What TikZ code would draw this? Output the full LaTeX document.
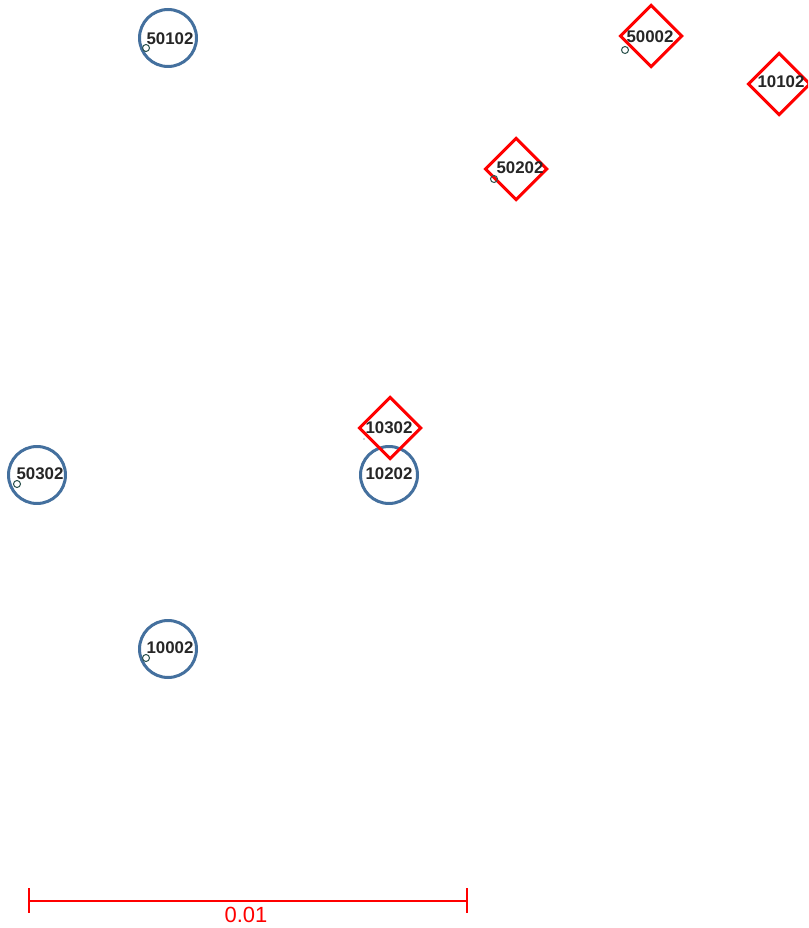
\documentclass[tikz,border=0pt]{standalone}
\usepackage{fontspec}
\setmainfont{Liberation Sans}
\usepackage{xcolor}
\usetikzlibrary{shapes.geometric}
\definecolor{siteblue}{HTML}{44709E}
\definecolor{markred}{HTML}{FF0000}
\definecolor{textgray}{HTML}{262626}
\definecolor{pingray}{HTML}{2F5550}
\tikzset{
  sitecircle/.style={circle,draw=siteblue,line width=0.06cm,minimum size=1.14cm,inner sep=0pt},
  sitediamond/.style={diamond,draw=markred,line width=0.06cm,minimum size=1.25cm,inner sep=0pt},
  tag/.style={inner sep=0pt,font=\fontsize{9.6}{10}\selectfont\bfseries,text=textgray},
  pin/.style={circle,draw=pingray,line width=0.6pt,minimum size=0.14cm,inner sep=0pt},
  scaleline/.style={draw=markred,line width=0.9pt}
}
\begin{document}
\begin{tikzpicture}[x=0.02cm,y=-0.02cm]
  \useasboundingbox (0,0) rectangle (808,928);
  \clip (0,0) rectangle (808,928);
  % blue sites
  \node[sitecircle] (c50102) at (168,38) {};
  \node[sitecircle] (c50302) at (37,475) {};
  \node[sitecircle] (c10202) at (389,475) {};
  \node[sitecircle] (c10002) at (168,649) {};
  % red sites
  \node[sitediamond] (d50002) at (651,36) {};
  \node[sitediamond] (d10102) at (779,84) {};
  \node[sitediamond] (d50202) at (516,169) {};
  \node[sitediamond] (d10302) at (390,428) {};
  % small pins
  \node[pin] (p50102) at (146,48) {};
  \node[pin] (p50002) at (625,50) {};
  \node[pin] (p50202) at (494,179) {};
  \node[pin] (p50302) at (17,484) {};
  \node[pin] (p10002) at (146,658) {};
  \fill[pingray] (364,439) circle (0.6);
  % labels
  \node[tag] at (170,39) {50102};
  \node[tag] at (650,37) {50002};
  \node[tag] at (781,82) {10102};
  \node[tag] at (520,168) {50202};
  \node[tag] at (389,428) {10302};
  \node[tag] at (40,474) {50302};
  \node[tag] at (389,474) {10202};
  \node[tag] at (170,648) {10002};
  % scale bar
  \coordinate (barl) at (29,901);
  \coordinate (barr) at (467,901);
  \draw[scaleline] (barl) -- (barr);
  \draw[scaleline] ([yshift=0.26cm]barl) -- ([yshift=-0.24cm]barl);
  \draw[scaleline] ([yshift=0.26cm]barr) -- ([yshift=-0.24cm]barr);
  \node[font=\fontsize{12.5}{14}\selectfont,text=markred] (barlabel) at (246,915) {0.01};
\end{tikzpicture}
\end{document}
